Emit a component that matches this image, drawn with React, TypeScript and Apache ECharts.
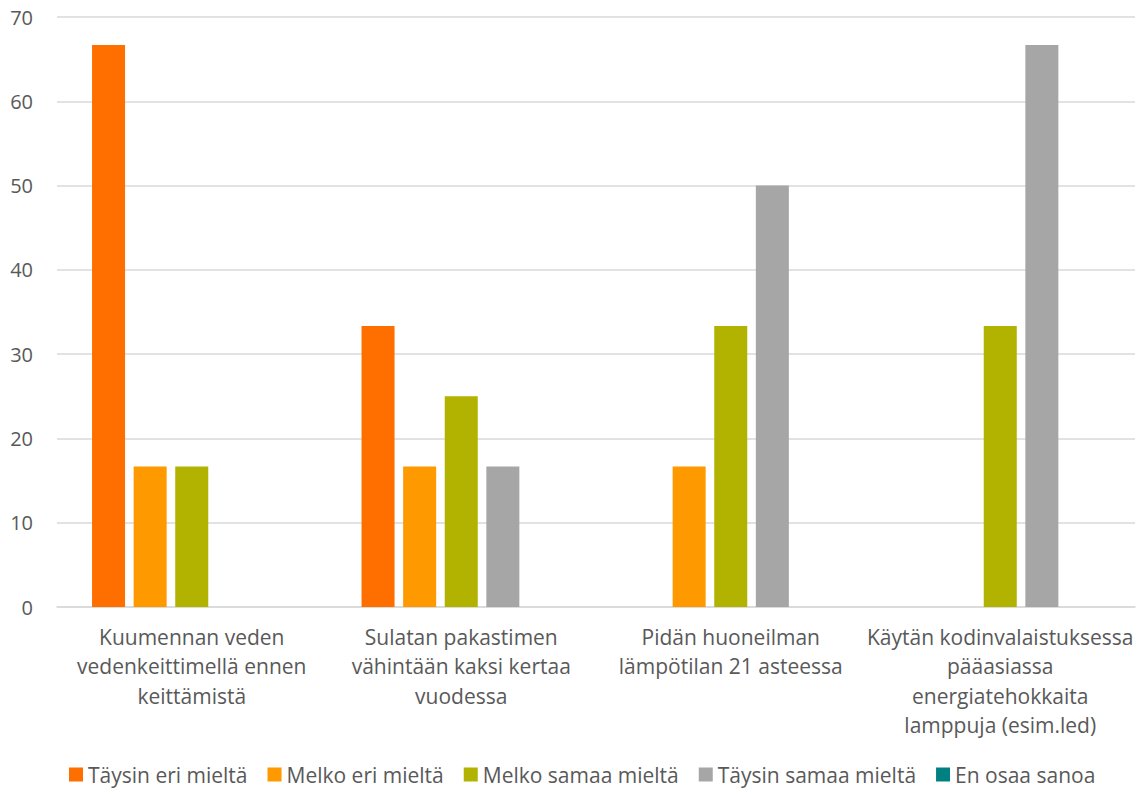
import React, { useEffect, useRef } from "react";
import * as echarts from "echarts";

const categories = [
  "Kuumennan veden\nvedenkeittimellä ennen\nkeittämistä",
  "Sulatan pakastimen\nvähintään kaksi kertaa\nvuodessa",
  "Pidän huoneilman\nlämpötilan 21 asteessa",
  "Käytän kodinvalaistuksessa\npääasiassa\nenergiatehokkaita\nlamppuja (esim.led)",
];

const seriesNames = [
  "Täysin eri mieltä",
  "Melko eri mieltä",
  "Melko samaa mieltä",
  "Täysin samaa mieltä",
  "En osaa sanoa",
];

const taysinEri = [66.67, 33.33, 0, 0];
const melkoEri = [16.67, 16.67, 16.67, 0];
const melkoSamaa = [16.67, 25, 33.33, 33.33];
const taysinSamaa = [0, 16.67, 50, 66.67];
const enOsaa = [0, 0, 0, 0];

const seriesValues = [taysinEri, melkoEri, melkoSamaa, taysinSamaa, enOsaa];
const colors = ["#FF6F00", "#FF9900", "#B2B200", "#A6A6A6", "#008080"];

const yTicks = { min: 0, max: 70, interval: 10 };

const FONT = "'Open Sans', 'Noto Sans', sans-serif";
const TEXT = "#595959";

export default function App() {
  const ref = useRef<HTMLDivElement>(null);

  useEffect(() => {
    if (!ref.current) return;
    const chart = echarts.init(ref.current, null, { renderer: "svg" });
    chart.setOption({
      animation: false,
      color: colors,
      textStyle: { fontFamily: FONT },
      grid: { left: 57, right: 11, top: 17, bottom: 187 },
      legend: {
        top: 764,
        left: 69,
        padding: 0,
        itemWidth: 14,
        itemHeight: 14,
        itemGap: 20,
        icon: "rect",
        textStyle: { color: TEXT, fontSize: 21, fontFamily: FONT },
        data: seriesNames,
      },
      xAxis: {
        type: "category",
        data: categories,
        axisLine: { lineStyle: { color: "#D9D9D9", width: 1.5 } },
        axisTick: { show: false },
        axisLabel: {
          color: TEXT,
          fontSize: 21,
          fontFamily: FONT,
          lineHeight: 29.5,
          margin: 15,
          interval: 0,
        },
      },
      yAxis: {
        type: "value",
        min: yTicks.min,
        max: yTicks.max,
        interval: yTicks.interval,
        axisLine: { show: false },
        axisTick: { show: false },
        splitLine: { lineStyle: { color: "#D9D9D9", width: 1.5 } },
        axisLabel: { color: TEXT, fontSize: 20, fontFamily: FONT, margin: 24 },
      },
      series: seriesNames.map((name, i) => ({
        name,
        type: "bar",
        data: seriesValues[i],
        barCategoryGap: "26%",
        barGap: "26%",
      })),
    });
    return () => chart.dispose();
  }, []);

  return (
    <div
      ref={ref}
      style={{ position: "absolute", left: 0, top: 0, width: 1146, height: 794 }}
    />
  );
}
